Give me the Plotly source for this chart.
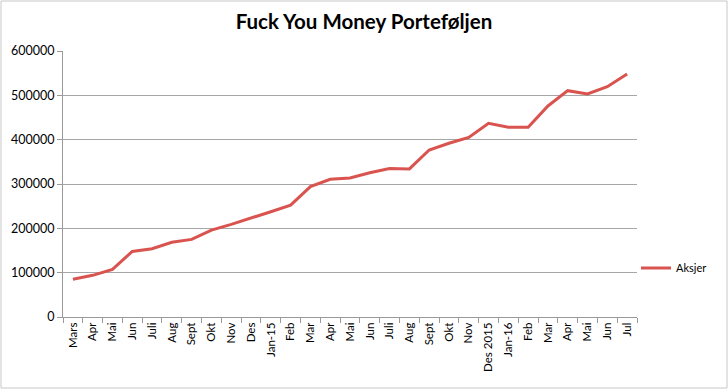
import plotly.graph_objects as go

months = ["Mars", "Apr", "Mai", "Jun", "Juli", "Aug", "Sept", "Okt", "Nov", "Des",
          "Jan-15", "Feb", "Mar", "Apr", "Mai", "Jun", "Juli", "Aug", "Sept", "Okt",
          "Nov", "Des 2015", "Jan-16", "Feb", "Mar", "Apr", "Mai", "Jun", "Jul"]
aksjer = [85000, 94000, 107500, 148000, 154000, 168500, 175000, 196000, 209000, 222500,
          237500, 252500, 294000, 310500, 313500, 325500, 335000, 334000, 376700, 391800,
          405000, 437000, 428000, 428000, 476000, 510500, 503000, 519500, 548000]
y_ticks = [0, 100000, 200000, 300000, 400000, 500000, 600000]

idx = list(range(len(months)))
fig = go.Figure()
fig.add_trace(go.Scatter(x=idx, y=aksjer, mode="lines", name="Aksjer",
                         line=dict(color="#d9534f", width=3)))

W, H = 728, 389
ml, mr, mt, mb = 63, 91, 51, 72
pw, ph = W - ml - mr, H - mt - mb

fig.update_layout(
    width=W, height=H, autosize=False,
    margin=dict(l=ml, r=mr, t=mt, b=mb),
    paper_bgcolor="white", plot_bgcolor="white",
    font=dict(family="Lato, Carlito, Arial", size=11, color="black"),
    title=dict(text="<b>Fuck You Money Porteføljen</b>", x=0.5, xanchor="center",
               y=1 - 22 / H, yanchor="middle", yref="container",
               font=dict(size=20.5, family="Lato, Arial", color="black")),
    showlegend=True,
    legend=dict(x=(636 - ml) / pw, y=(317 - 268) / ph, xanchor="left", yanchor="middle",
                font=dict(size=11), bgcolor="rgba(0,0,0,0)", borderwidth=0),
    xaxis=dict(range=[-0.5, len(months) - 0.5], tickmode="array", tickvals=idx,
               ticktext=months, tickangle=-90, ticks="", showgrid=False,
               showline=True, linecolor="#9a9a9a", linewidth=1, zeroline=False,
               tickfont=dict(size=11.5),
               minor=dict(tickvals=[i - 0.5 for i in range(len(months) + 1)],
                          ticks="outside", ticklen=5, tickcolor="#9a9a9a", showgrid=False)),
    yaxis=dict(range=[0, 600000], tickmode="array", tickvals=y_ticks,
               ticktext=[str(v) for v in y_ticks], showgrid=True, gridcolor="#a6a6a6",
               gridwidth=1, showline=True, linecolor="#9a9a9a", linewidth=1,
               ticks="outside", ticklen=5, tickcolor="#9a9a9a", zeroline=False,
               tickfont=dict(size=12.5)),
)

# outer chart frame
fig.add_shape(type="rect", xref="paper", yref="paper",
              x0=(1 - ml) / pw, x1=(W - 1 - ml) / pw,
              y0=-(mb - 1) / ph, y1=1 + (mt - 1) / ph,
              line=dict(color="#c8c8c8", width=1), layer="below")

post = (
    "document.documentElement.style.margin='0';"
    "document.documentElement.style.overflow='hidden';"
    "document.body.style.margin='0';"
    "document.body.style.overflow='hidden';"
)
fig.write_html("out.html", post_script=post, default_width="728px", default_height="389px",
               config={"displayModeBar": False, "responsive": False})
